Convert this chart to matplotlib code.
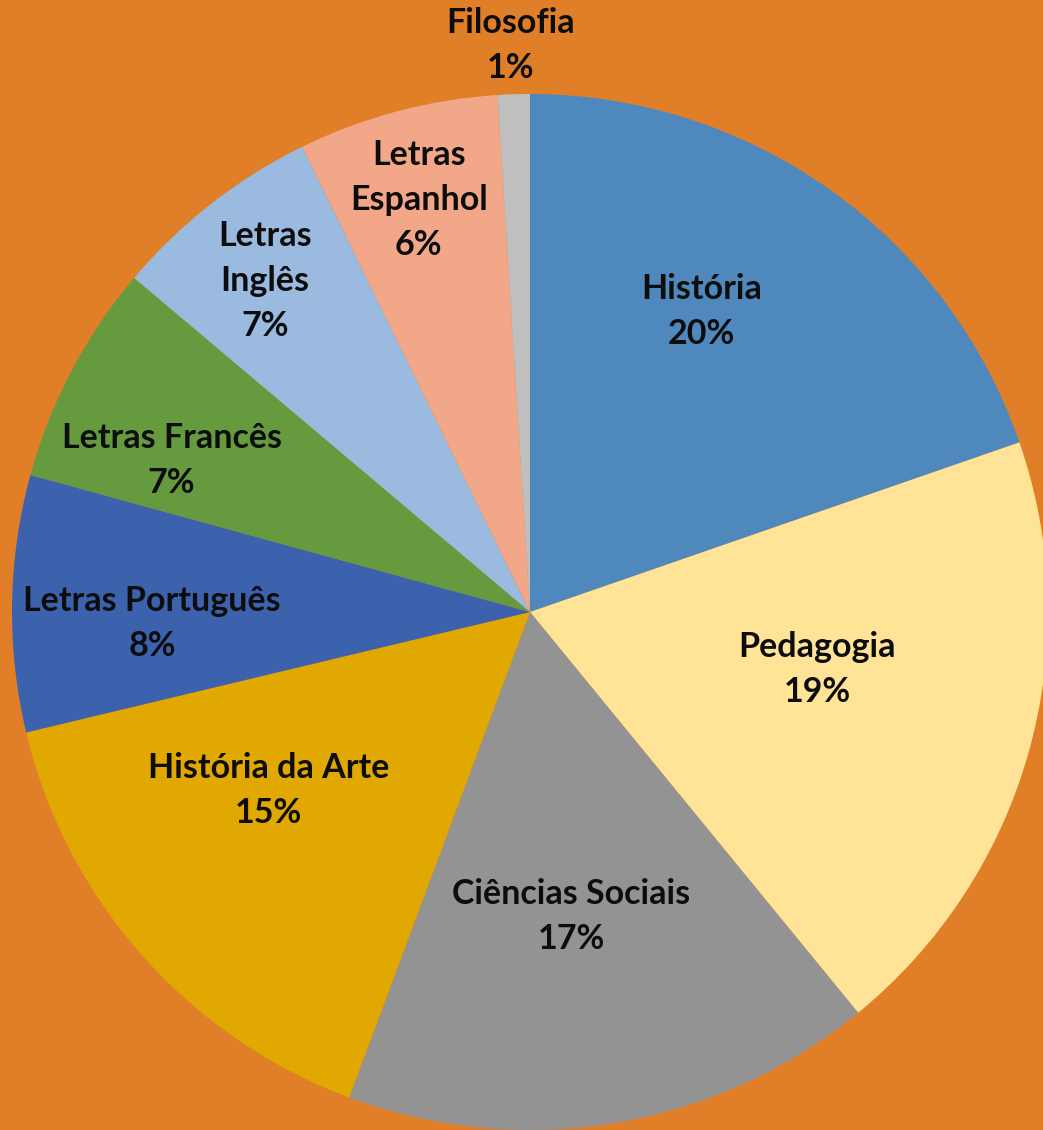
import matplotlib
matplotlib.use("Agg")
import matplotlib.pyplot as plt
import numpy as np

# course share (percent of the total), clockwise from 12 o'clock
courses = ["História", "Pedagogia", "Ciências Sociais", "História da Arte",
           "Letras Português", "Letras Francês", "Letras\nInglês",
           "Letras\nEspanhol", "Filosofia"]
shares = [19.7, 19.4, 16.6, 15.6, 8.0, 6.9, 6.6, 6.25, 1.0]
pct_labels = ["20%", "19%", "17%", "15%", "8%", "7%", "7%", "6%", "1%"]

colors = ["#4F88BD", "#FFE498", "#939393", "#E0A800", "#3D62AD",
          "#659A3F", "#9ABAE0", "#F1A788", "#BFBFBF"]
# label placement: fraction of the radius, and turn (deg) off the wedge middle
label_r = [0.668, 0.565, 0.594, 0.611, 0.730, 0.751, 0.819, 0.823, 1.095]
label_turn = [5.7, 4.4, -1.7, -7.2, 2.7, 4.9, 0.7, 0.3, 0.2]

plt.rcParams["font.family"] = ["Lato", "DejaVu Sans"]

fig = plt.figure(figsize=(10.43, 11.30), dpi=100)
fig.patch.set_facecolor("#E07F28")
ax = fig.add_axes([12 / 1043, 0.0, 1036 / 1043, 1036 / 1130])
ax.set_facecolor("none")

wedges, _ = ax.pie(shares, colors=colors, startangle=90, counterclock=False,
                   radius=1.0, wedgeprops=dict(linewidth=0))

for w, name, pct, r, turn in zip(wedges, courses, pct_labels, label_r, label_turn):
    mid = np.deg2rad((w.theta1 + w.theta2) / 2 + turn)
    ax.text(r * np.cos(mid), r * np.sin(mid), f"{name}\n{pct}",
            ha="center", va="center", fontsize=24.5, fontweight="bold",
            color="#0D0D0D", linespacing=1.5, clip_on=False)

ax.set_xlim(-1, 1)
ax.set_ylim(-1, 1)
ax.set_aspect("equal")
ax.axis("off")

fig.savefig("out.png", dpi=100, facecolor=fig.get_facecolor())
